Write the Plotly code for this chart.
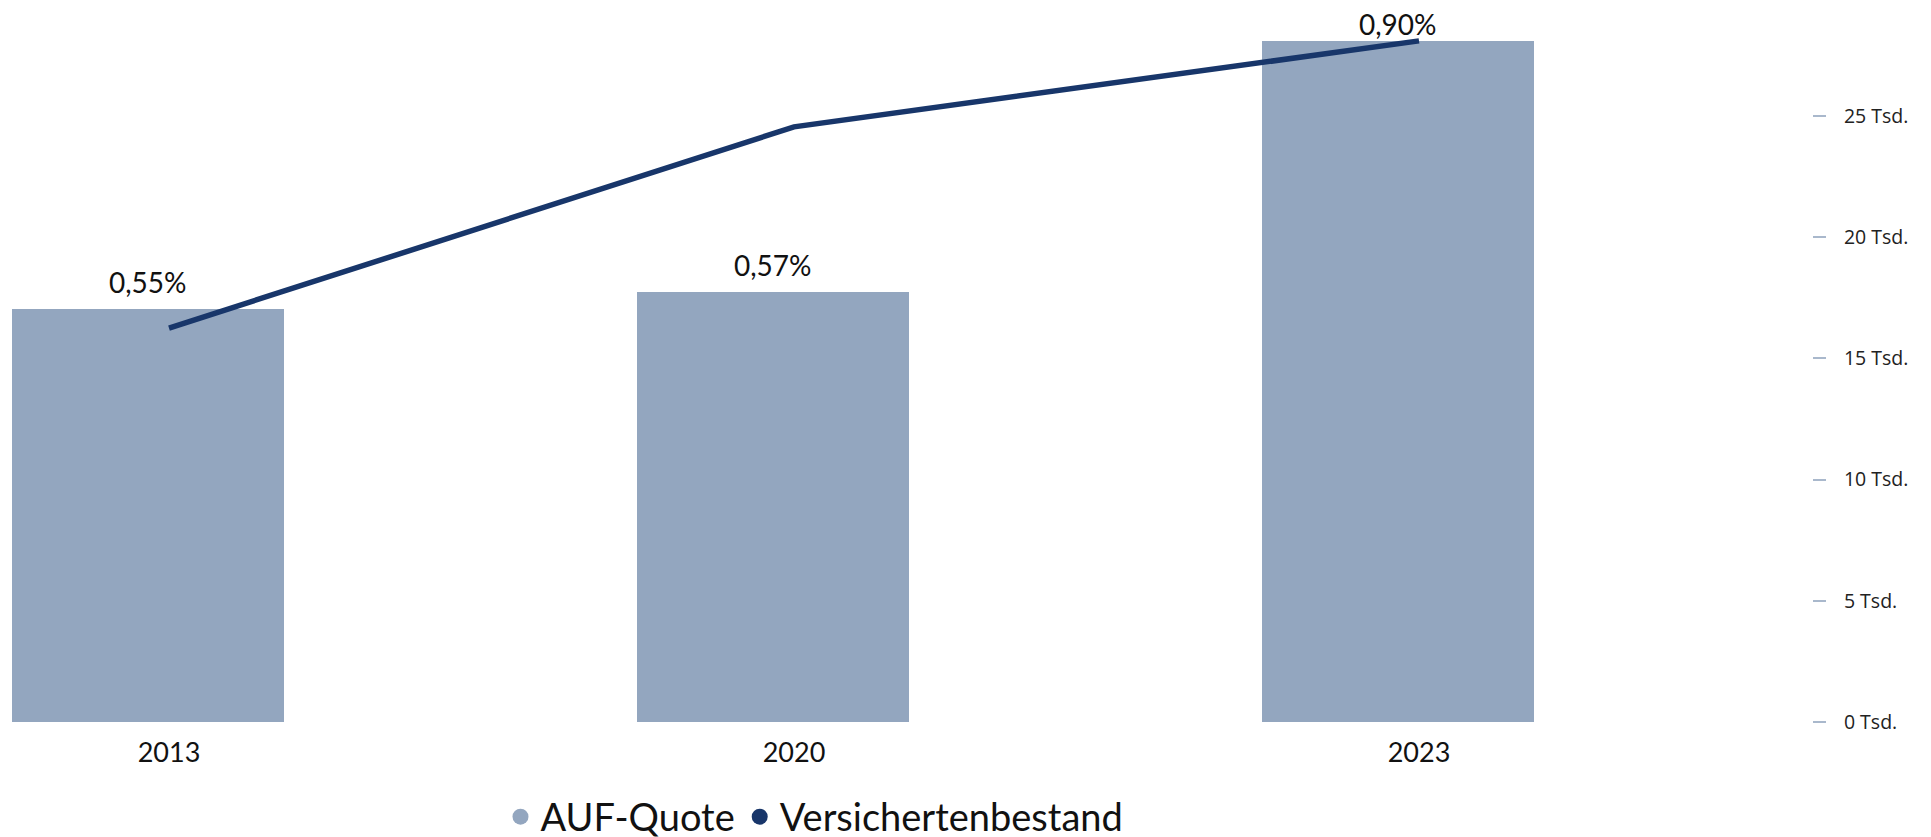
import plotly.graph_objects as go

years = ["2013", "2020", "2023"]
auf_quote = [0.546, 0.568, 0.90]        # percent
versicherte = [16250, 24550, 28100]     # persons
y2_tickvals = [0, 5000, 10000, 15000, 20000, 25000]
y2_ticktext = ["0 Tsd.", "5 Tsd.", "10 Tsd.", "15 Tsd.", "20 Tsd.", "25 Tsd."]

BAR_COLOR = "#93a6bf"
LINE_COLOR = "#18366a"
LABEL_SHIFT = [27, 27, 17]  # px above bar top (top one squeezed by plot edge)

fig = go.Figure()

fig.add_trace(go.Bar(
    x=years, y=auf_quote, name="AUF-Quote",
    marker=dict(color=BAR_COLOR, line=dict(width=0)),
    width=0.4352, offset=-0.2512,
    showlegend=False, yaxis="y",
))

fig.add_trace(go.Scatter(
    x=years, y=versicherte, name="Versichertenbestand",
    mode="lines", line=dict(color=LINE_COLOR, width=5.5),
    showlegend=False, yaxis="y2", cliponaxis=False,
))

# legend entries (circle symbols)
fig.add_trace(go.Scatter(x=[None], y=[None], mode="markers", name="AUF-Quote",
                         marker=dict(symbol="circle", size=16, color=BAR_COLOR)))
fig.add_trace(go.Scatter(x=[None], y=[None], mode="markers", name="Versichertenbestand",
                         marker=dict(symbol="circle", size=16, color=LINE_COLOR)))

# value labels above bars (centred on the bar, bar centre = offset + width/2)
for i, (yr, v) in enumerate(zip(years, auf_quote)):
    fig.add_annotation(
        x=i - 0.2512 + 0.4352 / 2, y=v, xref="x", yref="y",
        text=f"{v:.2f}".replace(".", ",") + "%",
        showarrow=False, yanchor="middle", xanchor="center",
        yshift=LABEL_SHIFT[i],
        font=dict(family="Lato", size=28, color="#111111"),
    )

fig.update_layout(
    width=1923, height=837,
    margin=dict(l=0, r=119, t=0, b=123, autoexpand=False),
    paper_bgcolor="white", plot_bgcolor="white",
    bargap=0,
    xaxis=dict(
        type="category", range=[-0.2576, 2.6288],
        showgrid=False, zeroline=False, showline=False,
        ticks="outside", ticklen=7, tickcolor="rgba(0,0,0,0)",
        tickfont=dict(family="Lato", size=27, color="#111111"),
    ),
    yaxis=dict(
        range=[0, 0.9441], visible=False, showgrid=False, zeroline=False,
    ),
    yaxis2=dict(
        overlaying="y", side="right", range=[0, 29455],
        tickvals=y2_tickvals, ticktext=y2_ticktext,
        showgrid=False, zeroline=False, showline=False,
        ticks="outside", ticklen=13, tickwidth=2, tickcolor="#a9b8cc",
        ticklabelstandoff=14,
        tickfont=dict(family="Open Sans", size=19.5, color="#222222"),
    ),
    legend=dict(
        orientation="h", x=0.273, xanchor="left", y=-0.133, yanchor="middle",
        font=dict(family="Lato", size=38, color="#111111"),
        bgcolor="rgba(0,0,0,0)", itemsizing="trace",
    ),
)

fig.write_html("out.html")
